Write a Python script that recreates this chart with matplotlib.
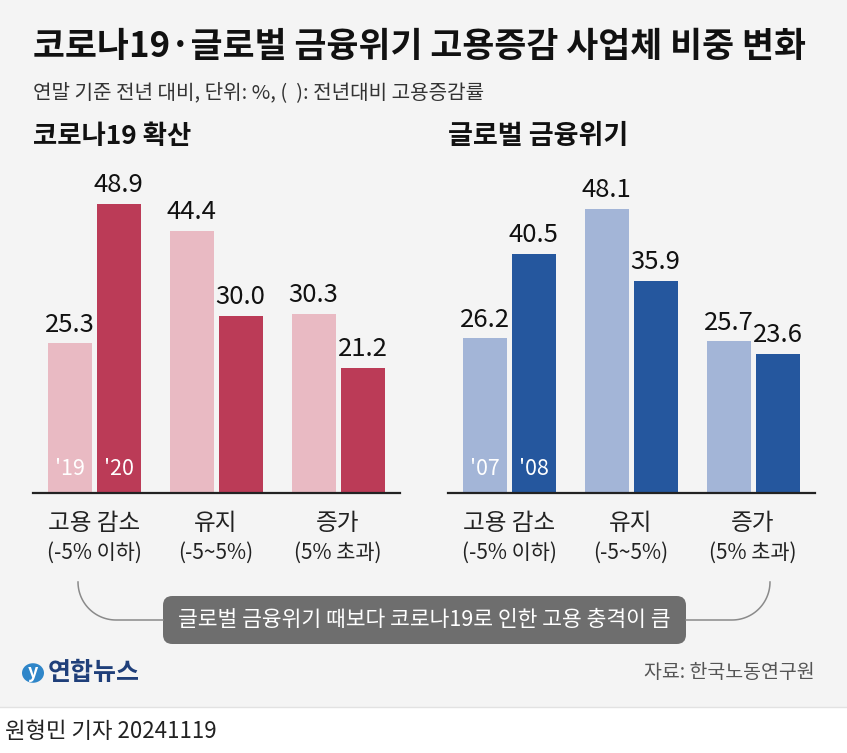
import numpy as np
import matplotlib
matplotlib.use("Agg")
import matplotlib.pyplot as plt
from matplotlib.patches import FancyBboxPatch, Rectangle, Circle
from matplotlib.lines import Line2D

plt.rcParams['font.family'] = ['Noto Sans CJK KR', 'DejaVu Sans']

# --- data ---
categories = ["고용 감소", "유지", "증가"]
ranges = ["(-5% 이하)", "(-5~5%)", "(5% 초과)"]

covid_years = ["'19", "'20"]
covid_prev = [25.3, 44.4, 30.3]
covid_curr = [48.9, 30.0, 21.2]

gfc_years = ["'07", "'08"]
gfc_prev = [26.2, 48.1, 25.7]
gfc_curr = [40.5, 35.9, 23.6]

title = "코로나19·글로벌 금융위기 고용증감 사업체 비중 변화"
subtitle = "연말 기준 전년 대비, 단위: %, (  ): 전년대비 고용증감률"
note = "글로벌 금융위기 때보다 코로나19로 인한 고용 충격이 큼"
source = "자료: 한국노동연구원"
byline = "원형민 기자 20241119"

W, H = 847, 753
BG = "#f4f4f4"


def fx(px):
    return px / W


def fy(py):
    # pixel from top -> figure fraction
    return 1 - py / H


fig = plt.figure(figsize=(W / 100, H / 100), dpi=100)
fig.patch.set_facecolor(BG)

# white footer band
fig.patches.append(Rectangle((0, 0), 1, fy(707), transform=fig.transFigure,
                             facecolor="white", edgecolor="none", zorder=0))
fig.add_artist(Line2D([0, 1], [fy(707), fy(707)], color="#e2e2e2", lw=1))

# titles
fig.text(fx(33), fy(46), title, fontsize=25, fontweight="bold", color="#111111",
         va="center", ha="left")
fig.text(fx(33), fy(93), subtitle, fontsize=14.5, color="#333333", va="center", ha="left")
fig.text(fx(33), fy(136), "코로나19 확산", fontsize=19, fontweight="bold",
         color="#111111", va="center", ha="left")
fig.text(fx(448), fy(136), "글로벌 금융위기", fontsize=19.5, fontweight="bold",
         color="#111111", va="center", ha="left")

# --- bar charts ---
px_per_unit = 5.91
ax_h = 320
bw = 44 / 122
off = 24.5 / 122


def draw_panel(left_px, prev, curr, years, c_prev, c_curr):
    ax = fig.add_axes([fx(left_px), fy(493), fx(367), ax_h / H])
    ax.set_facecolor("none")
    x = np.arange(len(prev))
    b1 = ax.bar(x - off, prev, bw, color=c_prev)
    b2 = ax.bar(x + off, curr, bw, color=c_curr)
    ax.set_xlim(-0.5, 2.508)
    ax.set_ylim(0, ax_h / px_per_unit)
    for bars in (b1, b2):
        for r in bars:
            ax.annotate(f"{r.get_height():.1f}",
                        (r.get_x() + r.get_width() / 2, r.get_height()),
                        xytext=(0, 4), textcoords="offset points",
                        ha="center", va="bottom", fontsize=18.5, color="#111111")
    ax.text(x[0] - off, 4.0, years[0], ha="center", va="center", fontsize=15.5,
            color="white")
    ax.text(x[0] + off, 4.0, years[1], ha="center", va="center", fontsize=15.5,
            color="white")
    ax.axhline(0, color="#222222", lw=1.6, clip_on=False)
    for s in ax.spines.values():
        s.set_visible(False)
    ax.set_xticks([])
    ax.set_yticks([])
    for i in x:
        ax.annotate(categories[i], (i, 0), xytext=(0, -22), textcoords="offset points",
                    ha="center", va="center", fontsize=17, color="#222222")
        ax.annotate(ranges[i], (i, 0), xytext=(0, -43), textcoords="offset points",
                    ha="center", va="center", fontsize=15, color="#222222")
    return ax


draw_panel(33, covid_prev, covid_curr, covid_years, "#e9bac3", "#bb3b57")
draw_panel(448, gfc_prev, gfc_curr, gfc_years, "#a3b5d7", "#25579e")

# --- bracket ---
r = 38
t = np.linspace(0, np.pi / 2, 30)
lx = 78 + r - r * np.cos(t)
ly = 582 + (620 - r - 582) + r * np.sin(t)
xs = np.concatenate([[78], lx, [163]])
ys = np.concatenate([[582], ly, [620]])
fig.add_artist(Line2D(fx(xs), fy(ys), color="#8a8a8a", lw=1.1))
rx = 770 - r + r * np.cos(t)
xs = np.concatenate([[770], rx, [686]])
fig.add_artist(Line2D(fx(xs), fy(ys), color="#8a8a8a", lw=1.1))

# banner
fig.patches.append(FancyBboxPatch((fx(163), fy(644)), fx(686 - 163), (644 - 596) / H,
                                  boxstyle="round,pad=0,rounding_size=0.011",
                                  transform=fig.transFigure, facecolor="#6e6e6e",
                                  edgecolor="none", mutation_aspect=W / H))
fig.text(fx(424), fy(620), note, fontsize=15.5, color="white", ha="center", va="center")

# logo
fig.patches.append(Circle((fx(33), fy(673)), 11 / W, transform=fig.transFigure,
                          facecolor="#2f86c9", edgecolor="none"))
fig.text(fx(33), fy(673), "y", fontsize=13, color="white", ha="center", va="center",
         fontstyle="italic", fontweight="bold")
fig.text(fx(48), fy(673), "연합뉴스", fontsize=18, fontweight="bold", color="#1f3f7a",
         ha="left", va="center")

fig.text(fx(815), fy(673), source, fontsize=14, color="#555555", ha="right", va="center")
fig.text(fx(5), fy(731), byline, fontsize=16, color="#222222", ha="left", va="center")

fig.savefig("out.png", dpi=100, facecolor=fig.get_facecolor())
